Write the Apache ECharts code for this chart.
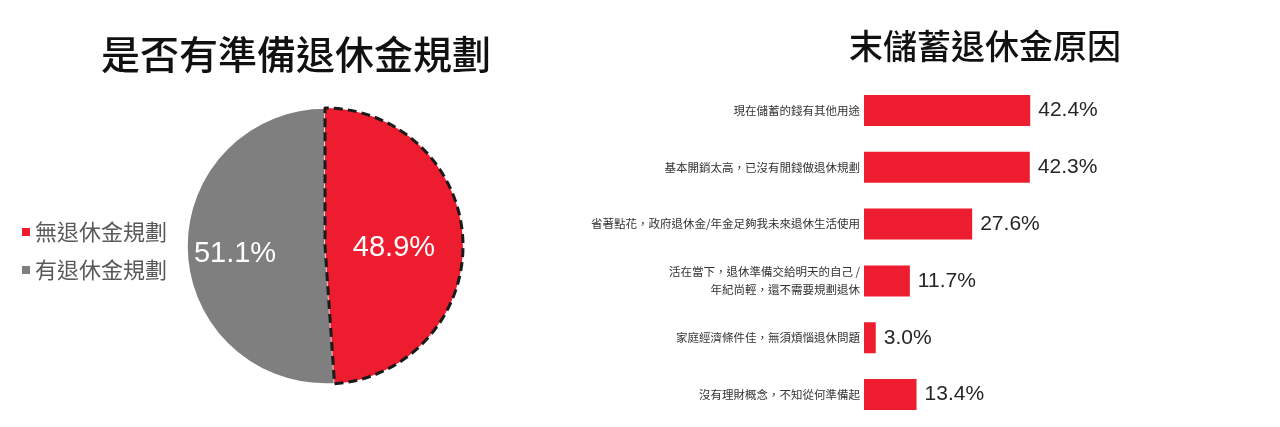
<!DOCTYPE html>
<html>
<head>
    <meta charset="utf-8">
    <title>退休金規劃</title>
</head>
<body style="margin:0;background-color:#fff;">
    <div id="main" style="width:1280px;height:427px;"></div>
    <script src="https://cdn.jsdelivr.net/npm/echarts@6/dist/echarts.min.js"></script>
    <script type="text/javascript">
        // 圓餅圖資料
        var pieNames = ['有退休金規劃', '無退休金規劃'];
        var pieValues = [51.1, 48.9];
        var pieColors = ['#7f7f7f', '#ed1c2e'];

        // 長條圖資料（由上而下）
        var reasons = [
            '現在儲蓄的錢有其他用途',
            '基本開銷太高，已沒有閒錢做退休規劃',
            '省著點花，政府退休金/年金足夠我未來退休生活使用',
            '活在當下，退休準備交給明天的自己 /\n年紀尚輕，還不需要規劃退休',
            '家庭經濟條件佳，無須煩惱退休問題',
            '沒有理財概念，不知從何準備起'
        ];
        var reasonValues = [42.4, 42.3, 27.6, 11.7, 3.0, 13.4];

        var myChart = echarts.init(document.getElementById('main'));

        var cjk = '"Noto Sans CJK TC", "Noto Sans CJK SC", sans-serif';
        var latin = '"Liberation Sans", Arial, "Noto Sans CJK TC", sans-serif';

        function pct(p) { return p.value.toFixed(1) + '%'; }

        var option = {
            backgroundColor: '#fff',
            animation: false,
            title: [
                {
                    text: '是否有準備退休金規劃',
                    left: 291, top: 30, textAlign: 'center',
                    textStyle: {color: '#111', fontSize: 39, fontWeight: 500, fontFamily: cjk}
                },
                {
                    text: '末儲蓄退休金原因',
                    left: 980, top: 24, textAlign: 'center',
                    textStyle: {color: '#111', fontSize: 34, fontWeight: 500, fontFamily: cjk}
                }
            ],
            legend: {
                orient: 'vertical',
                left: 17, top: 216,
                data: ['無退休金規劃', '有退休金規劃'],
                icon: 'rect',
                itemWidth: 8, itemHeight: 8,
                itemGap: 16,
                itemStyle: {borderWidth: 0},
                textStyle: {color: '#595959', fontSize: 22, fontFamily: cjk}
            },
            grid: {left: 864, right: 220, top: 82, bottom: 4},
            xAxis: {
                type: 'value', min: 0, max: 50, show: false
            },
            yAxis: {
                type: 'category',
                inverse: true,
                data: reasons,
                axisLine: {show: false},
                axisTick: {show: false},
                axisLabel: {
                    color: '#333', fontSize: 11.5, fontFamily: cjk,
                    margin: 4, lineHeight: 18, align: 'right'
                }
            },
            series: [
                {
                    type: 'pie',
                    center: [325, 246],
                    radius: 138,
                    startAngle: 90,
                    clockwise: false,
                    data: pieNames.map(function (n, i) {
                        var d = {name: n, value: pieValues[i], itemStyle: {color: pieColors[i]}};
                        if (i === 1) {
                            d.itemStyle.borderColor = '#1a1a1a';
                            d.itemStyle.borderWidth = 3;
                            d.itemStyle.borderType = [9, 5];
                            d.label = {offset: [-3, 4]};
                        } else {
                            d.itemStyle.borderColor = '#fff';
                            d.itemStyle.borderWidth = 1.5;
                            d.label = {offset: [-18, 6]};
                        }
                        return d;
                    }),
                    label: {
                        show: true,
                        position: 'inside',
                        color: '#fff',
                        fontSize: 29,
                        fontFamily: latin,
                        formatter: pct
                    },
                    labelLine: {show: false},
                    emphasis: {disabled: true}
                },
                {
                    type: 'bar',
                    data: reasonValues,
                    barWidth: 31,
                    itemStyle: {color: '#ed1c2e'},
                    label: {
                        show: true,
                        position: 'right',
                        distance: 8,
                        color: '#262626',
                        fontSize: 21,
                        fontFamily: latin,
                        formatter: pct
                    }
                }
            ]
        };

        myChart.setOption(option);
    </script>
</body>
</html>
